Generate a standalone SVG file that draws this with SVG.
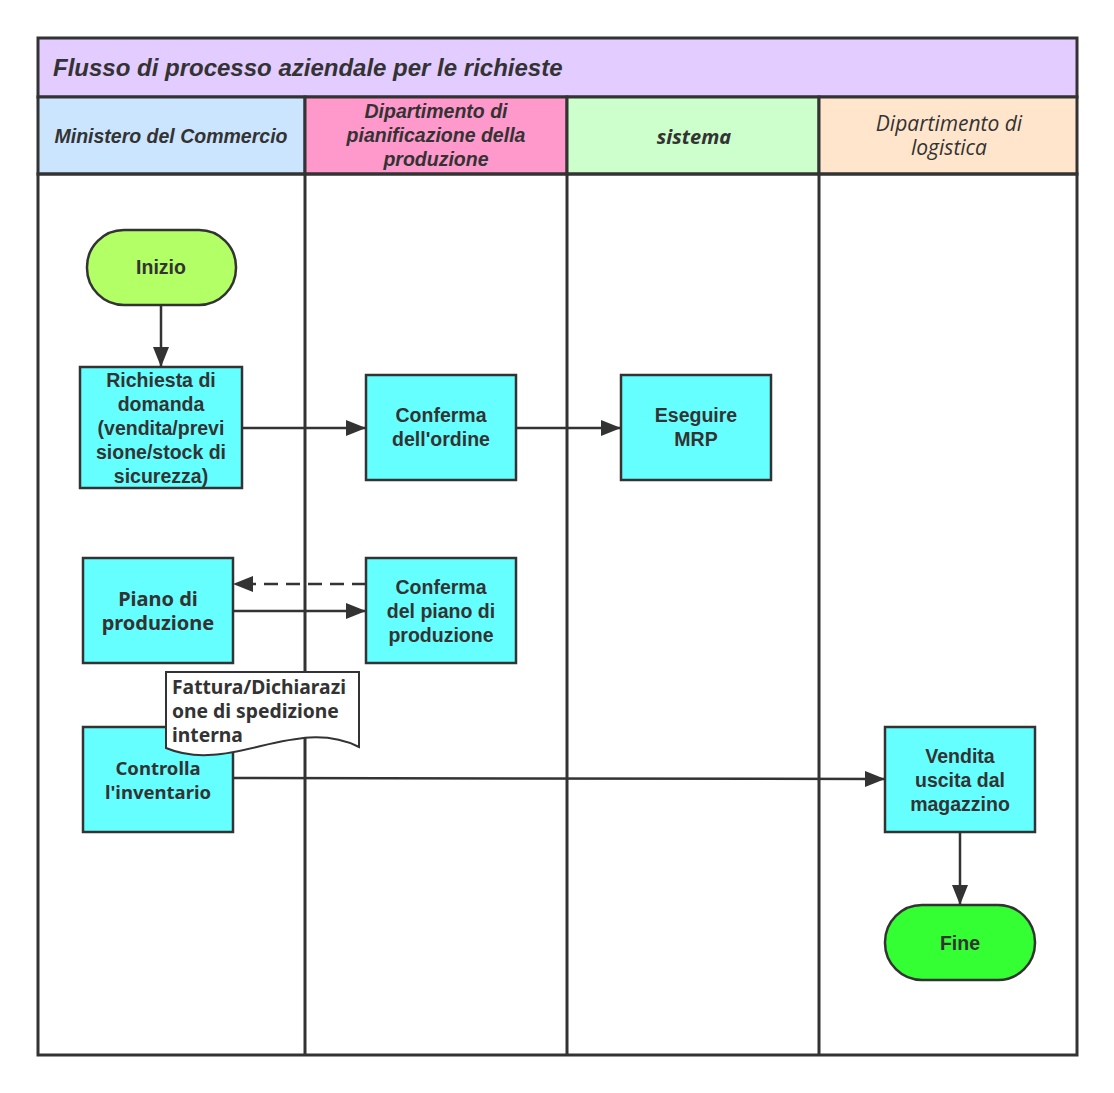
<svg xmlns="http://www.w3.org/2000/svg" width="1114" height="1093" viewBox="0 0 1114 1093">
<defs>
<marker id="arrB" viewBox="0 0 20 16" refX="20" refY="8" markerWidth="20" markerHeight="16" markerUnits="userSpaceOnUse" orient="auto">
<path d="M0,0 L20,8 L0,16 z" fill="#333"/>
</marker>
</defs>
<style>
.lane{stroke:#333;stroke-width:3;}
.box{fill:#66ffff;stroke:#333;stroke-width:2.5;}
.t{font-family:"Liberation Sans",Arial,sans-serif;font-weight:bold;font-size:19.5px;fill:#333;text-anchor:middle;}
.n{font-family:"Noto Sans","Open Sans",sans-serif;font-weight:bold;fill:#333;text-anchor:middle;}
.c{fill:none;stroke:#333;stroke-width:2.5;}
</style>
<rect width="1114" height="1093" fill="#ffffff"/>
<g id="pool">
<rect x="38" y="38" width="1039" height="59" fill="#e3ccff" class="lane"/>
<text x="53" y="76" font-family="Liberation Sans,Arial,sans-serif" font-weight="bold" font-style="italic" font-size="24" fill="#333">Flusso di processo aziendale per le richieste</text>
<rect x="38" y="97" width="267" height="77" fill="#cce5ff" class="lane"/>
<rect x="305" y="97" width="262" height="77" fill="#ff99cc" class="lane"/>
<rect x="567" y="97" width="252" height="77" fill="#ccffcc" class="lane"/>
<rect x="819" y="97" width="258" height="77" fill="#ffe5cc" class="lane"/>
<rect x="38" y="174" width="1039" height="881" fill="none" class="lane"/>
<line x1="305" y1="174" x2="305" y2="1055" class="lane"/>
<line x1="567" y1="174" x2="567" y2="1055" class="lane"/>
<line x1="819" y1="174" x2="819" y2="1055" class="lane"/>
<text x="171" y="143" class="t" font-style="italic">Ministero del Commercio</text>
<text class="t" font-style="italic"><tspan x="436" y="118">Dipartimento di</tspan><tspan x="436" y="142">pianificazione della</tspan><tspan x="436" y="166">produzione</tspan></text>
<text x="694" y="144" class="n" font-style="italic" font-size="20">sistema</text>
<text font-family="Open Sans,Noto Sans,sans-serif" font-style="italic" font-size="21" fill="#333" text-anchor="middle"><tspan x="949" y="131">Dipartimento di</tspan><tspan x="949" y="155">logistica</tspan></text>
</g>
<g id="connectors">
<line x1="161" y1="305" x2="161" y2="367" class="c" marker-end="url(#arrB)"/>
<line x1="242" y1="428" x2="366" y2="428" class="c" marker-end="url(#arrB)"/>
<line x1="516" y1="428" x2="621" y2="428" class="c" marker-end="url(#arrB)"/>
<line x1="366" y1="584" x2="233" y2="584" class="c" stroke-dasharray="14,8" marker-end="url(#arrB)"/>
<line x1="233" y1="611" x2="366" y2="611" class="c" marker-end="url(#arrB)"/>
<line x1="233" y1="778" x2="885" y2="779" class="c" marker-end="url(#arrB)"/>
<line x1="960" y1="832" x2="960" y2="905" class="c" marker-end="url(#arrB)"/>
</g>
<g id="inizio">
<rect x="87" y="230" width="149" height="75" rx="37" ry="37" fill="#b3ff66" stroke="#333" stroke-width="2.5"/>
<text x="161" y="274" class="t">Inizio</text>
</g>
<g id="richiesta">
<rect x="80" y="367" width="162" height="121" class="box"/>
<text class="t"><tspan x="161" y="387">Richiesta di</tspan><tspan x="161" y="411">domanda</tspan><tspan x="161" y="435">(vendita/previ</tspan><tspan x="161" y="459">sione/stock di</tspan><tspan x="161" y="483">sicurezza)</tspan></text>
</g>
<g id="conferma-ordine">
<rect x="366" y="375" width="150" height="105" class="box"/>
<text class="t"><tspan x="441" y="422">Conferma</tspan><tspan x="441" y="446">dell'ordine</tspan></text>
</g>
<g id="eseguire-mrp">
<rect x="621" y="375" width="150" height="105" class="box"/>
<text class="t"><tspan x="696" y="422">Eseguire</tspan><tspan x="696" y="446">MRP</tspan></text>
</g>
<g id="piano">
<rect x="83" y="558" width="150" height="105" class="box"/>
<text class="n" font-size="20"><tspan x="158" y="606">Piano di</tspan><tspan x="158" y="630">produzione</tspan></text>
</g>
<g id="conferma-piano">
<rect x="366" y="558" width="150" height="105" class="box"/>
<text class="t"><tspan x="441" y="594">Conferma</tspan><tspan x="441" y="618">del piano di</tspan><tspan x="441" y="642">produzione</tspan></text>
</g>
<g id="controlla">
<rect x="83" y="727" width="150" height="105" class="box"/>
<text class="n" font-size="18.5"><tspan x="158" y="775">Controlla</tspan><tspan x="158" y="799">l'inventario</tspan></text>
</g>
<g id="documento">
<path d="M166,672 L359,672 L359,747 C295,715 230,775 166,748 Z" fill="#ffffff" stroke="#333" stroke-width="2"/>
<text font-family="Noto Sans,Open Sans,sans-serif" font-weight="bold" font-size="19.3" fill="#333"><tspan x="172" y="694">Fattura/Dichiarazi</tspan><tspan x="172" y="718">one di spedizione</tspan><tspan x="172" y="742">interna</tspan></text>
</g>
<g id="vendita">
<rect x="885" y="727" width="150" height="105" class="box"/>
<text class="t"><tspan x="960" y="763">Vendita</tspan><tspan x="960" y="787">uscita dal</tspan><tspan x="960" y="811">magazzino</tspan></text>
</g>
<g id="fine">
<rect x="885" y="905" width="150" height="75" rx="37" ry="37" fill="#33ff33" stroke="#333" stroke-width="2.5"/>
<text x="960" y="950" class="t">Fine</text>
</g>
</svg>
